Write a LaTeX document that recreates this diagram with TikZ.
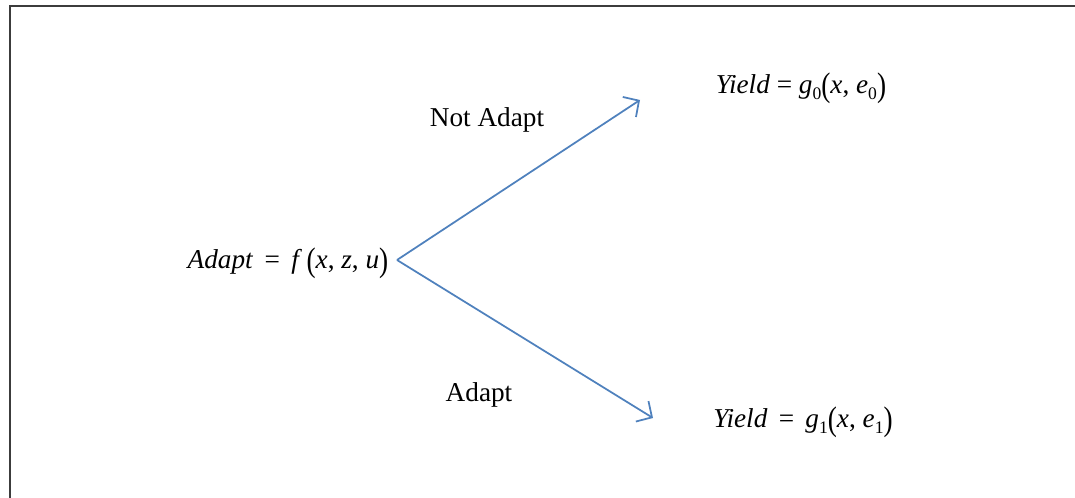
\documentclass[tikz,border=0pt]{standalone}
\usepackage{fontspec}
\setmainfont{Liberation Serif}
\usepackage{graphicx}
\usepackage{tikz}
\usetikzlibrary{positioning,arrows.meta}
\definecolor{armclr}{RGB}{79,129,189}
\definecolor{frameclr}{RGB}{60,60,60}
\newcommand{\lowsub}[1]{\raisebox{-0.5ex}{\fontsize{10}{10}\selectfont #1}}
\newcommand{\tallp}[1]{\raisebox{-0.2ex}{\scalebox{1}[1.25]{#1}}}
\tikzset{
    eqn/.style={inner sep=1pt,font=\fontsize{15.5}{18}\selectfont},
    lbl/.style={inner sep=1pt,font=\fontsize{15.5}{18}\selectfont},
    arm/.style={-{Straight Barb[length=2.3mm,width=4.8mm]},draw=armclr,line width=1pt},
    frame/.style={draw=frameclr,line width=1.6pt},
}

\begin{document}
\begin{tikzpicture}
\useasboundingbox (0,0) rectangle (21.5,9.96);
% frame (top and left only)
\draw[frame] (21.5,9.84) -- (0.2,9.84) -- (0.2,0);

% equations
\node[eqn] (Adapt) at (5.76,4.7) {\textit{Adapt} \,=\, \textit{f}\,\tallp{(}\textit{x}, \textit{z}, \textit{u}\tallp{)}};
\node[eqn] (Y0) at (16.02,8.2) {\textit{Yield} = \textit{g}\lowsub{0}\tallp{(}\textit{x}, \textit{e}\lowsub{0}\tallp{)}};
\node[eqn] (Y1) at (16.06,1.52) {\textit{Yield} \,=\, \textit{g}\lowsub{1}\tallp{(}\textit{x}, \textit{e}\lowsub{1}\tallp{)}};

% branch labels
\node[lbl] (NotA) at (9.74,7.56) {Not Adapt};
\node[lbl] (YesA) at (9.58,2.06) {Adapt};

% wiring
\coordinate (fork) at (7.94,4.76);
\coordinate (up)   at (12.8,7.96);
\coordinate (down) at (13.06,1.6);
\draw[arm] (fork) -- (up);
\draw[arm] (fork) -- (down);
\end{tikzpicture}
\end{document}
